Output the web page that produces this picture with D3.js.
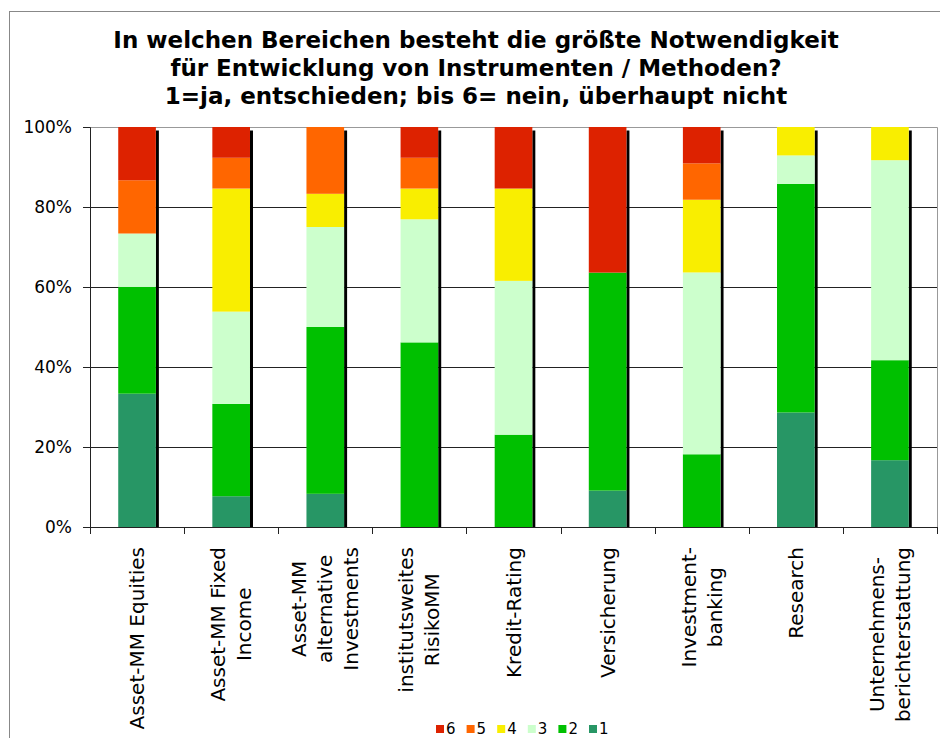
<!DOCTYPE html>
<html>
<head>
<meta charset="utf-8">
<script src="https://cdn.jsdelivr.net/npm/d3@7"></script>
<style>
  body { margin: 0; background: #fff; }
  text { font-family: "DejaVu Sans", Verdana, sans-serif; fill: #000; }
</style>
</head>
<body>
<svg class="chart"></svg>
<script>
var svgWidth = 940,
    svgHeight = 738,
    margin = {top: 127, right: 3, bottom: 211, left: 90},
    width = svgWidth - margin.left - margin.right,
    height = svgHeight - margin.top - margin.bottom;

// categories (line breaks as in the original labels)
var categories = [
    ['Asset-MM Equities'],
    ['Asset-MM Fixed', 'Income'],
    ['Asset-MM', 'alternative', 'Investments'],
    ['institutsweites', 'RisikoMM'],
    ['Kredit-Rating'],
    ['Versicherung'],
    ['Investment-', 'banking'],
    ['Research'],
    ['Unternehmens-', 'berichterstattung']
];

// share of answers per level (percent), 1 = ja, entschieden ... 6 = nein, überhaupt nicht
var answer1 = [33.3, 7.7, 8.3, 0, 0, 9.1, 0, 28.6, 16.7];
var answer2 = [26.7, 23.1, 41.7, 46.2, 23.1, 54.5, 18.2, 57.1, 25.0];
var answer3 = [13.3, 23.1, 25.0, 30.8, 38.5, 0, 45.5, 7.1, 50.0];
var answer4 = [0, 30.8, 8.3, 7.7, 23.1, 0, 18.2, 7.1, 8.3];
var answer5 = [13.3, 7.7, 16.7, 7.7, 0, 0, 9.1, 0, 0];
var answer6 = [13.3, 7.7, 0, 7.7, 15.4, 36.4, 9.1, 0, 0];

var seriesKeys = ['1', '2', '3', '4', '5', '6'];
var legendKeys = ['6', '5', '4', '3', '2', '1'];
var yTicks = [0, 0.2, 0.4, 0.6, 0.8, 1];

var titleLines = [
    'In welchen Bereichen besteht die größte Notwendigkeit',
    'für Entwicklung von Instrumenten / Methoden?',
    '1=ja, entschieden; bis 6= nein, überhaupt nicht'
];

var colors = {'1': '#279665', '2': '#00c000', '3': '#ccffcc', '4': '#f9ee00', '5': '#ff6600', '6': '#dd2200'};

var seriesValues = {'1': answer1, '2': answer2, '3': answer3, '4': answer4, '5': answer5, '6': answer6};
var tableData = categories.map(function(c, i) {
    var row = {cat: c.join(' ')};
    seriesKeys.forEach(function(k) { row[k] = seriesValues[k][i]; });
    return row;
});

var stacked = d3.stack().keys(seriesKeys).offset(d3.stackOffsetExpand)(tableData);

var xScale = d3.scaleBand()
        .domain(tableData.map(function(d) { return d.cat; }))
        .range([0, width])
        .paddingInner(0.6)
        .paddingOuter(0.3),
    yScale = d3.scaleLinear().domain([0, 1]).range([height, 0]);

var root = d3.select('.chart')
    .attr('width', svgWidth)
    .attr('height', svgHeight);

// outer frame
root.append('rect')
    .attr('x', 9.5).attr('y', 11.5)
    .attr('width', svgWidth).attr('height', svgHeight)
    .attr('fill', 'none').attr('stroke', '#888');

// title
root.append('text')
    .attr('text-anchor', 'middle')
    .style('font-weight', 'bold')
    .style('font-size', '23px')
    .selectAll('tspan')
    .data(titleLines)
    .enter().append('tspan')
        .attr('x', 476)
        .attr('y', function(d, i) { return 48 + i * 28; })
        .text(function(d) { return d; });

var svg = root.append('g')
    .attr('transform', 'translate(' + margin.left + ',' + margin.top + ')');

// gridlines
svg.append('g').selectAll('line')
    .data(yTicks.slice(1, -1))
    .enter().append('line')
        .attr('x1', 0).attr('x2', width)
        .attr('y1', function(d) { return Math.round(yScale(d)) + 0.5; })
        .attr('y2', function(d) { return Math.round(yScale(d)) + 0.5; })
        .attr('stroke', '#222');

// plot frame (top and right)
svg.append('path')
    .attr('d', 'M0,0.5H' + (width + 0.5) + 'V' + height)
    .attr('fill', 'none').attr('stroke', '#999');

// bar shadows
var barShadow = 3.5;
svg.append('g').selectAll('rect')
    .data(tableData)
    .enter().append('rect')
        .attr('x', function(d) { return xScale(d.cat) + xScale.bandwidth(); })
        .attr('y', yScale(1) + barShadow)
        .attr('width', 3)
        .attr('height', height - barShadow)
        .attr('fill', '#000');

// stacked bars
var layers = svg.append('g').selectAll('g')
    .data(stacked)
    .enter().append('g')
        .attr('fill', function(d) { return colors[d.key]; });

layers.selectAll('rect')
    .data(function(d) { return d; })
    .enter().append('rect')
        .attr('x', function(d) { return xScale(d.data.cat); })
        .attr('y', function(d) { return yScale(d[1]); })
        .attr('width', xScale.bandwidth())
        .attr('height', function(d) { return yScale(d[0]) - yScale(d[1]); });

// y axis
var yAxis = d3.axisLeft(yScale)
    .tickValues(yTicks)
    .tickSize(7)
    .tickPadding(11)
    .tickFormat(d3.format('.0%'));

svg.append('g')
    .attr('class', 'yaxis')
    .call(yAxis)
    .call(function(g) {
        g.select('.domain').attr('stroke', '#222');
        g.selectAll('.tick line').attr('stroke', '#222');
        g.selectAll('.tick text').style('font-size', '17px').attr('font-family', null).attr('fill', '#000');
    });

// x axis (ticks between categories)
var step = xScale.step();
svg.append('line')
    .attr('x1', 0).attr('x2', width)
    .attr('y1', height + 0.5).attr('y2', height + 0.5)
    .attr('stroke', '#222');

svg.append('g').selectAll('line')
    .data(d3.range(categories.length + 1))
    .enter().append('line')
        .attr('x1', function(i) { return Math.round(i * step) + 0.5; })
        .attr('x2', function(i) { return Math.round(i * step) + 0.5; })
        .attr('y1', height).attr('y2', height + 7)
        .attr('stroke', '#222');

// rotated category labels
var lineGap = 26;
var labels = svg.append('g').selectAll('g')
    .data(categories)
    .enter().append('g')
        .attr('transform', function(d, i) {
            return 'translate(' + (xScale(tableData[i].cat) + xScale.bandwidth() / 2) + ',' + (height + 20) + ') rotate(-90)';
        });

labels.each(function(lines) {
    var g = d3.select(this);
    var t = g.append('text').style('font-size', '20px').attr('text-anchor', 'middle');
    lines.forEach(function(line, i) {
        t.append('tspan')
            .attr('x', 0)
            .attr('y', (i - (lines.length - 1) / 2) * lineGap + 7)
            .text(line);
    });
    var w = t.node().getBBox().width;
    t.attr('transform', 'translate(' + (-w / 2) + ',0)');
});

// legend
var legend = root.append('g')
    .attr('transform', 'translate(436,725)');

var item = legend.selectAll('g')
    .data(legendKeys)
    .enter().append('g')
        .attr('transform', function(d, i) { return 'translate(' + (i * 30.6) + ',0)'; });

item.append('rect')
    .attr('width', 8).attr('height', 8)
    .attr('fill', function(d) { return colors[d]; });

item.append('text')
    .attr('x', 10).attr('y', 9)
    .style('font-size', '15px')
    .text(function(d) { return d; });
</script>
</body>
</html>
